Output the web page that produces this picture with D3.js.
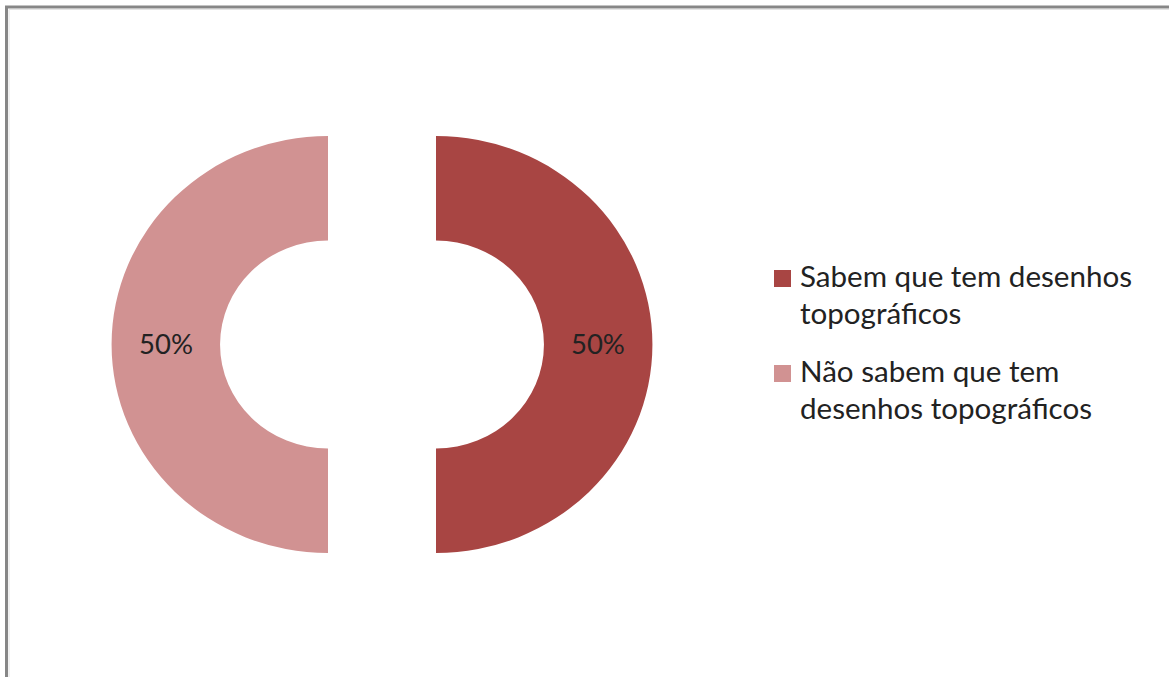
<!DOCTYPE html>
<html>
<head>
<meta charset="utf-8">
<script src="https://cdn.jsdelivr.net/npm/d3@7/dist/d3.min.js"></script>
<style>
  html, body { margin: 0; padding: 0; background: #ffffff; }
  svg { display: block; }
</style>
</head>
<body>
<svg id="chart" width="1169" height="677"></svg>
<script>
// Survey answers: do they know there are topographic drawings?
const categories = ["Sabem que tem desenhos topográficos", "Não sabem que tem desenhos topográficos"];
const legendLines = [["Sabem que tem desenhos", "topográficos"], ["Não sabem que tem", "desenhos topográficos"]];
const values = [50, 50];
const colors = ["#a84543", "#d19292"];

const svg = d3.select("#chart");
const W = 1169, H = 677;
const sx = 1.038; // slight horizontal stretch of the whole plot

// Chart-area frame (left and top edges visible)
svg.append("path")
  .attr("d", `M6.5,${H} L6.5,7 L${W},7`)
  .attr("fill", "none")
  .attr("stroke", "#878787")
  .attr("stroke-width", 3);
svg.append("path")
  .attr("d", `M9,${H} L9,9.5 L${W},9.5`)
  .attr("fill", "none")
  .attr("stroke", "#e4e4e4")
  .attr("stroke-width", 1);

// Exploded doughnut
const cx = 382, cy = 344.5;
const outerR = 208.5, innerR = 104;
const explode = 54;
const total = d3.sum(values);

const pie = d3.pie().sort(null).value(d => d);
const arc = d3.arc().innerRadius(innerR).outerRadius(outerR);
const labelArc = d3.arc().innerRadius(156).outerRadius(156);

const g = svg.append("g").attr("transform", `translate(${cx},${cy})`);
const slices = g.selectAll("g.slice")
  .data(pie(values))
  .join("g")
  .attr("class", "slice")
  .attr("transform", d => {
    const a = (d.startAngle + d.endAngle) / 2;
    return `translate(${Math.sin(a) * explode},${-Math.cos(a) * explode})`;
  });

slices.append("path")
  .attr("d", arc)
  .attr("transform", `scale(${sx},1)`)
  .attr("fill", (d, i) => colors[i]);

slices.append("text")
  .attr("transform", d => {
    const [x, y] = labelArc.centroid(d);
    return `translate(${x * sx},${y}) scale(${sx},1)`;
  })
  .attr("text-anchor", "middle")
  .attr("dy", "0.35em")
  .attr("font-family", "Lato, 'Open Sans', sans-serif")
  .attr("font-size", 26.5)
  .attr("fill", "#222")
  .text(d => Math.round(d.data / total * 100) + "%");

// Legend
const legend = svg.append("g").attr("class", "legend");
const legendRows = [{ y: 270 }, { y: 365 }];
const lineGap = 37;
legendLines.forEach((lines, i) => {
  const row = legend.append("g");
  row.append("rect")
    .attr("x", 774).attr("y", legendRows[i].y)
    .attr("width", 17).attr("height", 17)
    .attr("fill", colors[i]);
  const t = row.append("text")
    .attr("transform", `translate(800,0) scale(${sx},1)`)
    .attr("font-family", "Lato, 'Open Sans', sans-serif")
    .attr("font-size", 28.5)
    .attr("fill", "#222");
  lines.forEach((ln, j) => {
    t.append("tspan")
      .attr("x", 0)
      .attr("y", legendRows[i].y + 17 + j * lineGap)
      .text(ln);
  });
});
</script>
</body>
</html>
